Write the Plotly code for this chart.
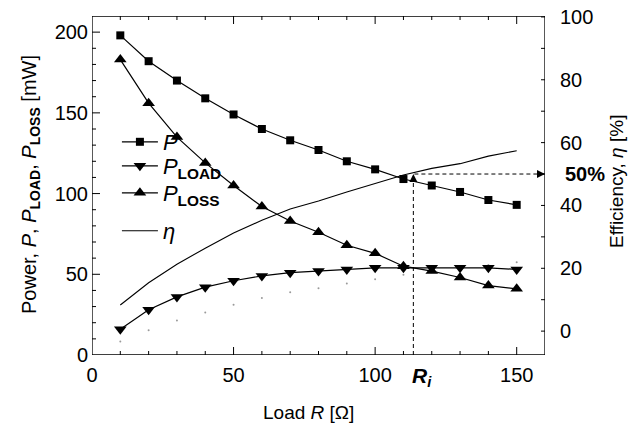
import plotly.graph_objects as go

# ---------------- data ----------------
load_r = [10, 20, 30, 40, 50, 60, 70, 80, 90, 100, 110, 120, 130, 140, 150]
p_total = [198, 182, 170, 159, 149, 140, 133, 127, 120, 115, 109, 105, 101, 96, 93]
p_load = [16, 28, 36, 42, 46, 49, 51, 52, 53, 54, 54, 54, 54, 54, 53]
p_loss = [183, 156, 135, 119, 105, 92, 83, 76, 68, 63, 55, 52, 48, 43, 41]
efficiency = [8.3, 15.4, 21.3, 26.4, 31.2, 35.3, 38.9, 41.4, 44.3, 47.0, 49.7, 51.8, 53.3, 55.7, 57.4]

x_major_ticks = [0, 50, 100, 150]
y_major_ticks = [0, 50, 100, 150, 200]
y2_major_ticks = [0, 20, 40, 60, 80, 100]

R_I = 113.5          # internal resistance marker
ETA_MARK = 50        # 50 % efficiency marker

X_RANGE = [0, 160]
Y_RANGE = [0, 210]
Y2_RANGE = [-7.6, 100.3]

FONT = "Arial"
BLACK = "#000000"

# plot-area size in pixels (figure minus margins)
W, H = 630, 425
ML, MR, MT, MB = 92, 85, 16, 70
PW, PH = W - ML - MR, H - MT - MB
XU = (X_RANGE[1] - X_RANGE[0]) / PW      # x units per pixel
YU = (Y_RANGE[1] - Y_RANGE[0]) / PH      # y units per pixel
Y2U = (Y2_RANGE[1] - Y2_RANGE[0]) / PH   # y2 units per pixel

fig = go.Figure()

# faint dots (efficiency values drawn on the power scale)
fig.add_trace(go.Scatter(x=load_r, y=efficiency, mode="markers",
                         marker=dict(size=2, color="#9a9a9a"),
                         showlegend=False, hoverinfo="skip"))

fig.add_trace(go.Scatter(x=load_r, y=p_total, mode="lines+markers", name="<i>P</i>",
                         line=dict(color=BLACK, width=1.2),
                         marker=dict(symbol="square", size=8, color=BLACK),
                         legend="legend"))
fig.add_trace(go.Scatter(x=load_r, y=p_load, mode="lines+markers",
                         name="<i>P</i><sub><b>LOAD</b></sub>",
                         line=dict(color=BLACK, width=1.2),
                         marker=dict(symbol="triangle-down", size=11, color=BLACK),
                         legend="legend2"))
fig.add_trace(go.Scatter(x=load_r, y=p_loss, mode="lines+markers",
                         name="<i>P</i><sub><b>LOSS</b></sub>",
                         line=dict(color=BLACK, width=1.2),
                         marker=dict(symbol="triangle-up", size=11, color=BLACK),
                         legend="legend3"))
fig.add_trace(go.Scatter(x=load_r, y=efficiency, mode="lines", name="<i>η</i>",
                         line=dict(color=BLACK, width=1.1), yaxis="y2",
                         legend="legend4"))

# dashed guide lines with arrow heads
fig.add_trace(go.Scatter(x=[R_I, R_I, X_RANGE[1]], y=[Y2_RANGE[0], ETA_MARK, ETA_MARK],
                         mode="lines", yaxis="y2",
                         line=dict(color=BLACK, width=1, dash="4px,3px"),
                         showlegend=False, hoverinfo="skip"))
fig.add_trace(go.Scatter(x=[R_I, X_RANGE[1]], y=[ETA_MARK, ETA_MARK], mode="markers",
                         yaxis="y2", cliponaxis=False,
                         marker=dict(symbol=["arrow-up", "arrow-right"], size=8, color=BLACK),
                         showlegend=False, hoverinfo="skip"))

# ---------- frame and ticks (drawn on the axes' own scales) ----------
x0, x1 = X_RANGE
y0, y1 = Y_RANGE
fig.add_trace(go.Scatter(x=[x0, x1, x1, x0, x0], y=[y0, y0, y1, y1, y0], mode="lines",
                         line=dict(color=BLACK, width=1.3), cliponaxis=False,
                         showlegend=False, hoverinfo="skip"))

tx, ty = [], []
for v in range(10, X_RANGE[1], 10):
    ln = 8 if v in x_major_ticks else 4
    tx += [v, v, None, v, v, None]
    ty += [y0, y0 + ln * YU, None, y1, y1 - ln * YU, None]
for v in range(10, Y_RANGE[1], 10):
    ln = 8 if v in y_major_ticks else 4
    tx += [x0, x0 + ln * XU, None]
    ty += [v, v, None]
fig.add_trace(go.Scatter(x=tx, y=ty, mode="lines", line=dict(color=BLACK, width=1),
                         cliponaxis=False, showlegend=False, hoverinfo="skip",
                         connectgaps=False))

t2x, t2y = [], []
for v in range(0, 101, 10):
    t2x += [x1, x1 - 4 * XU, None]
    t2y += [v, v, None]
fig.add_trace(go.Scatter(x=t2x, y=t2y, mode="lines", yaxis="y2",
                         line=dict(color=BLACK, width=1), cliponaxis=False,
                         showlegend=False, hoverinfo="skip", connectgaps=False))

leg_common = dict(font=dict(family=FONT, size=22, color=BLACK), bgcolor="rgba(0,0,0,0)",
                  xanchor="left", yanchor="middle", itemwidth=36, borderwidth=0,
                  itemsizing="trace")
legend_x = 0.055


def py(pix):
    return 1 - (pix - MT) / PH


axis_common = dict(showgrid=False, zeroline=False, showline=False, ticks="",
                   tickfont=dict(size=20, color=BLACK), automargin=False)

fig.update_layout(
    template="simple_white",
    width=W, height=H,
    margin=dict(l=ML, r=MR, t=MT, b=MB, autoexpand=False),
    paper_bgcolor="white", plot_bgcolor="white",
    font=dict(family=FONT, size=20, color=BLACK),
    legend=dict(x=legend_x, y=py(142), **leg_common),
    legend2=dict(x=legend_x, y=py(166), **leg_common),
    legend3=dict(x=legend_x, y=py(193), **leg_common),
    legend4=dict(x=legend_x, y=py(231), **leg_common),
    xaxis=dict(range=X_RANGE, tickvals=x_major_ticks, ticklabelstandoff=6, **axis_common),
    yaxis=dict(range=Y_RANGE, tickvals=y_major_ticks, ticklabelstandoff=3, **axis_common),
    yaxis2=dict(range=Y2_RANGE, overlaying="y", side="right", tickvals=y2_major_ticks,
                ticklabelstandoff=14, **axis_common),
    annotations=[
        dict(x=0.478, y=py(412), xref="paper", yref="paper",
             text="Load <i>R</i> [Ω]", showarrow=False, font=dict(size=19),
             xanchor="center", yanchor="middle"),
        dict(x=(30 - ML) / PW, y=py(185), xref="paper", yref="paper", textangle=-90,
             text="Power, <i>P</i>, <i>P</i><sub><b>LOAD</b></sub>, "
                  "<i>P</i><sub><b>LOSS</b></sub> [mW]",
             showarrow=False, font=dict(size=20), xanchor="center", yanchor="middle"),
        dict(x=(616 - ML) / PW, y=py(182), xref="paper", yref="paper", textangle=-90,
             text="Efficiency, <i>η</i> [%]",
             showarrow=False, font=dict(size=19), xanchor="center", yanchor="middle"),
        dict(x=R_I, y=0, xref="x", yref="paper", yshift=-22, xshift=9,
             text="<b><i>R</i></b><sub><b><i>i</i></b></sub>", showarrow=False,
             font=dict(size=21), xanchor="center", yanchor="middle"),
        dict(x=1, y=ETA_MARK, xref="paper", yref="y2", xshift=18,
             text="<b>50%</b>", showarrow=False, font=dict(size=20),
             xanchor="left", yanchor="middle"),
    ],
)

fig.write_html("out.html", config={"displayModeBar": False},
               post_script="document.body.style.margin='0';")
